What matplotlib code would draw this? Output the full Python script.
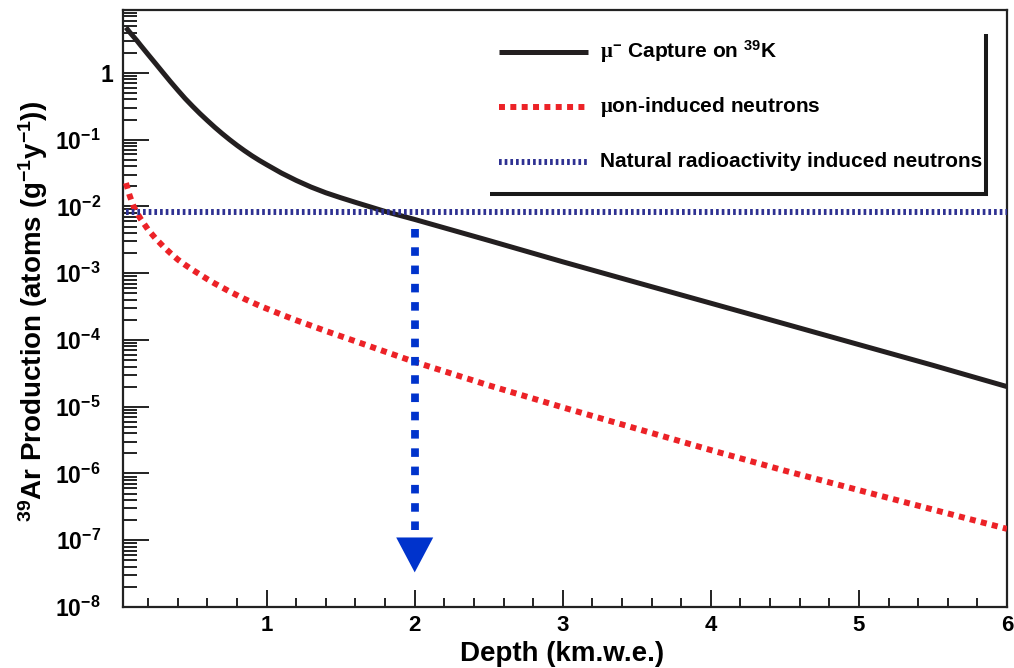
import matplotlib
matplotlib.use("Agg")
import matplotlib.pyplot as plt
import matplotlib.transforms as mtransforms
from matplotlib.ticker import FixedLocator, NullFormatter

plt.rcParams["font.family"] = ["Liberation Sans", "DejaVu Sans"]
plt.rcParams["font.weight"] = "bold"
plt.rcParams["mathtext.fontset"] = "custom"
plt.rcParams["mathtext.rm"] = "Liberation Sans:bold"
plt.rcParams["mathtext.bf"] = "Liberation Sans:bold"
plt.rcParams["mathtext.it"] = "Liberation Serif"

# ---- data (depth in km.w.e., production in atoms/g/y) ----
depth = [0.05, 0.075, 0.1, 0.125, 0.15, 0.2, 0.25, 0.3, 0.35, 0.4, 0.45, 0.5,
         0.55, 0.6, 0.65, 0.7, 0.75, 0.8, 0.85, 0.9, 0.95, 1.0, 1.1, 1.2, 1.3,
         1.4, 1.5, 1.6, 1.8, 2.0, 2.5, 3.0, 3.5, 4.0, 4.5, 5.0, 5.5, 6.0]
mu_capture = [4.79, 4.07, 3.51, 3.02, 2.57, 1.88, 1.38, 1.01, 0.741, 0.550,
              0.412, 0.316, 0.245, 0.193, 0.153, 0.123, 0.100, 0.0822, 0.0684,
              0.0575, 0.0490, 0.0422, 0.0316, 0.0245, 0.0195, 0.0160, 0.0135,
              0.0115, 0.00841, 0.00638, 0.00309, 0.00148, 7.24e-4, 3.55e-4,
              1.74e-4, 8.51e-5, 4.17e-5, 2.0e-5]
mu_neutrons = [0.0224, 0.0145, 0.0102, 0.00794, 0.00646, 0.00447, 0.00331,
               0.00254, 0.00200, 0.00160, 0.00133, 0.00112, 9.55e-4, 8.13e-4,
               7.00e-4, 6.10e-4, 5.31e-4, 4.68e-4, 4.12e-4, 3.67e-4, 3.27e-4,
               2.95e-4, 2.40e-4, 1.97e-4, 1.64e-4, 1.36e-4, 1.14e-4, 9.55e-5,
               6.68e-5, 4.68e-5, 2.09e-5, 9.77e-6, 4.68e-6, 2.24e-6, 1.10e-6,
               5.62e-7, 2.88e-7, 1.48e-7]
natural_depth = [0.05, 6.0]
natural_level = [8.3e-3, 8.3e-3]

labels = [r"$\mathit{\mu}^{-}$ Capture on $\mathregular{^{39}}$K",
          r"$\mathit{\mu}$on-induced neutrons",
          "Natural radioactivity induced neutrons"]

x_major = [1, 2, 3, 4, 5, 6]
x_minor = [0.2 * i for i in range(1, 30) if i % 5 != 0]
y_major = [1.0, 1e-1, 1e-2, 1e-3, 1e-4, 1e-5, 1e-6, 1e-7, 1e-8]
y_labels = ["1"] + [r"$\mathregular{10^{-%d}}$" % n for n in range(1, 9)]
y_minor = [k * 10.0 ** n for n in range(-8, 1) for k in range(2, 10) if k * 10.0 ** n < 8.9]

# arrow marking the crossing depth
arrow_x = 2.0
arrow_top, arrow_base, arrow_tip = 4.6e-3, 1.1e-7, 3.3e-8
arrow_half = 0.125

BLACK = "#231f20"
RED = "#ec2227"
NAVY = "#2e3192"
BLUE = "#0033cc"

fig = plt.figure(figsize=(10.14, 6.68), dpi=100)
ax = fig.add_axes([123 / 1014, 61 / 668, 884 / 1014, 597.5 / 668])

ax.plot(depth, mu_capture, color=BLACK, lw=3.6, solid_capstyle="butt", zorder=3)
ax.plot(depth, mu_neutrons, color=RED, lw=4.3, ls=(0, (1.0, 0.9)), zorder=3)
ax.plot(natural_depth, natural_level, color=NAVY, lw=4.3, ls=(0, (0.45, 0.5)), zorder=3)

ax.plot([arrow_x, arrow_x], [arrow_top, arrow_base], color=BLUE, lw=5.6,
        ls=(0, (1.1, 1.25)), zorder=4)
ax.fill([arrow_x - arrow_half, arrow_x + arrow_half, arrow_x],
        [arrow_base, arrow_base, arrow_tip], color=BLUE, lw=0, zorder=4)

ax.set_yscale("log")
ax.set_xlim(0.03, 6.0)
ax.set_ylim(1e-8, 8.9)

ax.xaxis.set_major_locator(FixedLocator(x_major))
ax.xaxis.set_minor_locator(FixedLocator(x_minor))
ax.set_xticklabels([str(v) for v in x_major])
ax.yaxis.set_major_locator(FixedLocator(y_major))
ax.yaxis.set_minor_locator(FixedLocator(y_minor))
ax.set_yticklabels(y_labels)
ax.yaxis.set_minor_formatter(NullFormatter())

ax.tick_params(axis="x", which="major", length=12.2, width=1.4, direction="in",
               pad=6, labelsize=16, top=False, color="#222222")
ax.tick_params(axis="x", which="minor", length=6.5, width=1.4, direction="in",
               top=False, color="#222222")
ax.tick_params(axis="y", which="major", length=18.5, width=1.4, direction="in",
               pad=16, labelsize=16.5, right=False, color="#222222")
ax.tick_params(axis="y", which="minor", length=10, width=1.4, direction="in",
               right=False, color="#222222")

for s in ax.spines.values():
    s.set_linewidth(1.6)
    s.set_color("#222222")

# "1" label sits closer to the axis in the original
lab = ax.yaxis.get_major_ticks()[0].label1
lab.set_transform(lab.get_transform() + mtransforms.ScaledTranslation(0.12, 0, fig.dpi_scale_trans))

fig.text(562 / 1014, 1 - 654 / 668, "Depth (km.w.e.)", ha="center", va="center",
         fontsize=20, fontweight="bold")
fig.text(33 / 1014, 1 - 311 / 668,
         r"$\mathregular{^{39}}$Ar Production (atoms (g$\mathregular{^{-1}}$y$\mathregular{^{-1}}$))",
         rotation=90, ha="center", va="center", fontsize=20, fontweight="bold")

# ---- legend (ROOT style, shadow only) ----
row_y = [0.9289, 0.8368, 0.7448]
key_x = [0.4253, 0.5260]
styles = [dict(color=BLACK, lw=3.6, solid_capstyle="butt"),
          dict(color=RED, lw=4.3, ls=(0, (1.0, 0.9))),
          dict(color=NAVY, lw=4.3, ls=(0, (0.45, 0.5)))]
for yy, lbl, st in zip(row_y, labels, styles):
    ax.plot(key_x, [yy, yy], transform=ax.transAxes, clip_on=False, **st)
    ax.text(0.5396, yy, lbl, transform=ax.transAxes, ha="left", va="center",
            fontsize=15, fontweight="bold")
ax.plot([0.4152, 0.9762, 0.9762], [0.6912, 0.6912, 0.959], transform=ax.transAxes,
        color="#1a1a1a", lw=2.9, solid_joinstyle="miter", solid_capstyle="butt")

fig.savefig("out.png", dpi=100)
